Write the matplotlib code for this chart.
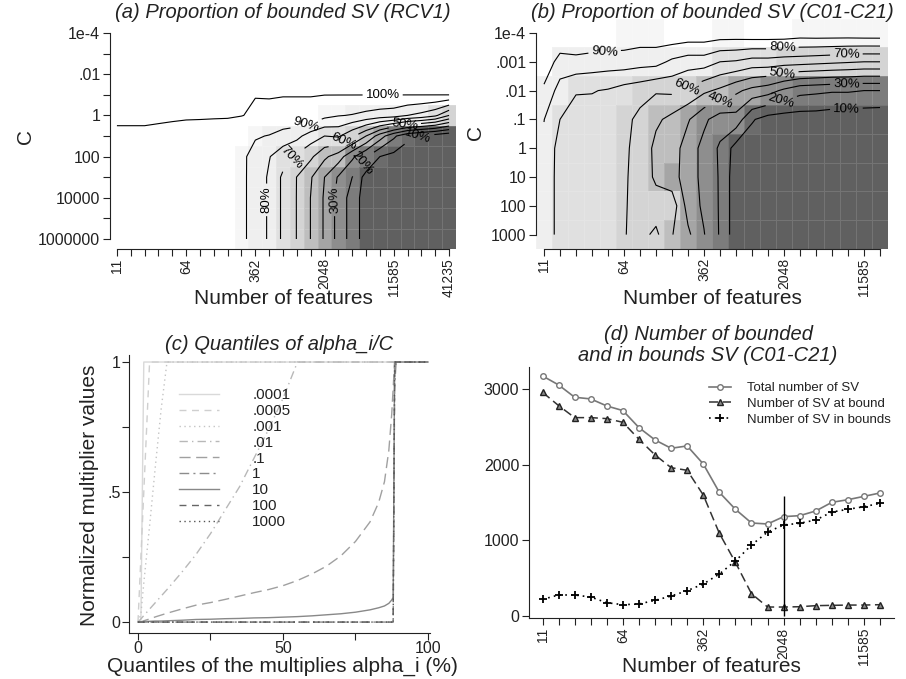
import numpy as np
import matplotlib
matplotlib.use("Agg")
import matplotlib.pyplot as plt
from matplotlib.colors import ListedColormap, BoundaryNorm

plt.rcParams['font.family'] = ['Liberation Sans', 'DejaVu Sans']
for key in ['text.color', 'axes.labelcolor', 'xtick.color', 'ytick.color', 'axes.edgecolor']:
    plt.rcParams[key] = '#222222'

# ---------------- data ----------------
# (a) proportion of bounded SV, RCV1 : one list per number of features, values for C = 1e-4 ... 1e6
rcv1_features = [11, 16, 23, 32, 45, 64, 91, 128, 181, 256, 362, 512, 724, 1024, 1448,
                 2048, 2896, 4096, 5793, 8192, 11585, 16384, 23170, 32768, 41235]
rcv1_C = ['1e-4', '.001', '.01', '.1', '1', '10', '100', '1000', '10000', '100000', '1000000']
rcv1_prop = [
    [1, 1, 1, 1, 1, .998, .998, .998, .998, .998, .998],
    [1, 1, 1, 1, 1, .998, .998, .998, .998, .998, .998],
    [1, 1, 1, 1, 1, .998, .998, .998, .998, .998, .998],
    [1, 1, 1, 1, 1, .9975, .9975, .9975, .9975, .9975, .9975],
    [1, 1, 1, 1, 1, .9967, .9967, .9967, .9967, .9967, .9967],
    [1, 1, 1, 1, 1, .9955, .9955, .9955, .9955, .9955, .9955],
    [1, 1, 1, 1, 1, .995, .995, .995, .995, .995, .995],
    [1, 1, 1, 1, 1, .994, .994, .994, .994, .994, .994],
    [1, 1, 1, 1, 1, .993, .993, .993, .993, .993, .993],
    [1, 1, 1, 1, 1, .97, .924, .924, .924, .924, .924],
    [1, 1, 1, 1, .994, .91, .86, .858, .858, .858, .858],
    [1, 1, 1, 1, .995, .895, .805, .787, .787, .787, .787],
    [1, 1, 1, 1, .99, .856, .744, .681, .681, .681, .681],
    [1, 1, 1, 1, .99, .83, .68, .598, .597, .597, .597],
    [1, 1, 1, 1, .99, .75, .62, .51, .498, .498, .498],
    [1, 1, 1, 1, .93, .70, .52, .40, .388, .388, .388],
    [1, 1, 1, 1, .905, .714, .45, .29, .267, .267, .267],
    [1, 1, 1, 1, .895, .62, .32, .20, .156, .156, .156],
    [1, 1, 1, 1, .875, .50, .21, .06, .05, .05, .05],
    [1, 1, 1, 1, .857, .35, .10, .04, .04, .04, .04],
    [1, 1, 1, 1, .846, .22, .07, .03, .03, .03, .03],
    [1, 1, 1, 1, .80, .12, .05, .03, .03, .03, .03],
    [1, 1, 1, 1, .77, .08, .04, .03, .03, .03, .03],
    [1, 1, 1, 1, .72, .05, .03, .03, .03, .03, .03],
    [1, 1, 1, 1, .60, .02, .02, .02, .02, .02, .02],
]

# (b) proportion of bounded SV, C01-C21 : values for C = 1e-4 ... 1000
c21_features = [11, 16, 23, 32, 45, 64, 91, 128, 181, 256, 362, 512, 724, 1024, 1448,
                2048, 2896, 4096, 5793, 8192, 11585, 16384]
c21_C = ['1e-4', '.001', '.01', '.1', '1', '10', '100', '1000']
c21_prop = [
    [.995, .97, .88, .802, .78, .78, .78, .78],
    [.995, .86, .76, .70, .66, .655, .655, .655],
    [.995, .87, .707, .66, .655, .655, .655, .655],
    [.99, .858, .705, .66, .655, .655, .655, .655],
    [.985, .851, .692, .66, .65, .65, .65, .65],
    [.969, .854, .66, .63, .61, .61, .61, .605],
    [.96, .84, .64, .573, .58, .57, .56, .57],
    [.965, .835, .61, .52, .47, .48, .55, .62],
    [.98, .78, .62, .47, .45, .44, .56, .505],
    [.97, .75, .58, .41, .35, .35, .36, .42],
    [.97, .75, .52, .32, .27, .27, .28, .305],
    [.96, .70, .48, .25, .185, .19, .19, .19],
    [.96, .69, .42, .26, .06, .04, .04, .04],
    [.97, .66, .37, .11, .04, .03, .03, .03],
    [.97, .66, .34, .06, .03, .03, .03, .03],
    [.97, .645, .28, .05, .03, .03, .03, .03],
    [.955, .64, .23, .05, .03, .03, .03, .03],
    [.96, .63, .22, .05, .03, .03, .03, .03],
    [.96, .62, .21, .04, .03, .03, .03, .03],
    [.96, .61, .21, .04, .03, .03, .03, .03],
    [.965, .60, .20, .035, .03, .03, .03, .03],
    [.966, .60, .20, .03, .03, .03, .03, .03],
]

# (c) quantiles of alpha_i / C
quantiles = [0, 1, 2, 4, 6, 8, 10, 15, 20, 25, 30, 35, 40, 45, 50, 55, 60, 65, 70, 75,
             80, 83, 85, 86.5, 87.5, 88, 88.5, 89, 90, 95, 100]
alpha_curves = {
    '.0001': [0, 0, 1, 1, 1, 1, 1, 1, 1, 1, 1, 1, 1, 1, 1, 1, 1, 1, 1, 1, 1, 1, 1, 1, 1, 1, 1, 1, 1, 1, 1],
    '.0005': [0, .25, .5, 1, 1, 1, 1, 1, 1, 1, 1, 1, 1, 1, 1, 1, 1, 1, 1, 1, 1, 1, 1, 1, 1, 1, 1, 1, 1, 1, 1],
    '.001': [0, .03, .15, .37, .6, .82, 1, 1, 1, 1, 1, 1, 1, 1, 1, 1, 1, 1, 1, 1, 1, 1, 1, 1, 1, 1, 1, 1, 1, 1, 1],
    '.01': [0, .012, .025, .05, .075, .1, .125, .19, .26, .34, .43, .52, .63, .74, .86, 1, 1, 1, 1, 1,
            1, 1, 1, 1, 1, 1, 1, 1, 1, 1, 1],
    '.1': [0, 0, .005, .012, .02, .027, .034, .05, .065, .075, .087, .1, .113, .125, .14, .16, .185, .215,
           .255, .31, .385, .46, .54, .66, .8, .9, 1, 1, 1, 1, 1],
    '1': [0, 0, 0, 0, 0, 0, 0, 0, 0, 0, 0, 0, 0, 0, 0, 0, 0, 0, 0, 0, 0, 0, 0, 0, 0, 0, .9, 1, 1, 1, 1],
    '10': [0, .001, .002, .003, .004, .004, .005, .007, .01, .011, .013, .014, .016, .017, .019, .021,
           .024, .028, .032, .038, .047, .055, .062, .072, .085, .095, 1, 1, 1, 1, 1],
    '100': [0, 0, 0, 0, 0, 0, 0, 0, 0, 0, 0, 0, 0, 0, 0, 0, 0, 0, 0, 0, 0, 0, 0, 0, 0, 0, .95, 1, 1, 1, 1],
    '1000': [0, 0, 0, 0, 0, 0, 0, 0, 0, 0, 0, 0, 0, 0, 0, 0, 0, 0, 0, 0, 0, 0, 0, 0, 0, 0, 1, 1, 1, 1, 1],
}

# (d) number of SV (C01-C21)
sv_total = [3172, 3053, 2890, 2868, 2775, 2714, 2489, 2326, 2216, 2247, 2009, 1634, 1410, 1229,
            1216, 1313, 1326, 1388, 1502, 1537, 1581, 1626]
sv_at_bound = [2956, 2780, 2621, 2621, 2608, 2559, 2335, 2128, 1960, 1925, 1599, 1093, 709, 295,
               119, 119, 123, 137, 141, 145, 145, 150]
sv_in_bounds = [220, 278, 278, 251, 176, 150, 159, 207, 264, 335, 423, 555, 727, 938, 1110, 1203,
                1225, 1269, 1374, 1410, 1445, 1489]
marked_feature = 2048
marked_height = 1580

# ---------------- layout helpers ----------------
W, H = 906, 679


def box(l, t, r, b):
    return [l / W, 1 - b / H, (r - l) / W, (b - t) / H]


def label(x, y, s, **kw):
    fig.text(x / W, 1 - y / H, s, ha='center', va='center', **kw)


shade_bounds = [0, .1, .15, .25, .35, .45, .55, .65, .75, .9, .97, 1.01]
shade_colors = ['#606060', '#6c6c6c', '#7c7c7c', '#8e8e8e', '#a5a5a5', '#bebebe',
                '#d4d4d4', '#e0e0e0', '#efefef', '#f6f6f6', '#ffffff']
cmap = ListedColormap(shade_colors)
norm = BoundaryNorm(shade_bounds, cmap.N)
pct = {0.1: '10%', 0.2: '20%', 0.3: '30%', 0.4: '40%', 0.5: '50%', 0.6: '60%',
       0.7: '70%', 0.8: '80%', 0.9: '90%', 0.999: '100%'}

fig = plt.figure(figsize=(9.06, 6.79), dpi=100)


def heat_panel(rect, prop, feats, cvals, levels, label_pos, xlab_idx, ylab_every):
    ax = fig.add_axes(rect)
    Z = np.array(prop).T
    ny, nx = Z.shape
    ax.pcolormesh(np.arange(nx + 1) - 0.5, np.arange(ny + 1) - 0.5, Z, cmap=cmap, norm=norm,
                  edgecolors=(1, 1, 1, 0.13), linewidth=0.5)
    # one contour set per level so that each label can be placed by hand
    for lev in levels:
        cs = ax.contour(np.arange(nx), np.arange(ny), Z, levels=[lev], colors='black',
                        linewidths=0.8)
        if lev in label_pos:
            texts = cs.clabel(manual=[label_pos[lev]], fmt=pct, fontsize=9.5, inline_spacing=3)
            for t in texts:
                r = t.get_rotation() % 360
                if 180 < r < 360 and abs(r - 270) < 20:
                    t.set_rotation(r - 180)
    ax.set_xlim(-0.5, nx - 0.5)
    ax.set_ylim(ny - 0.5, -0.5)
    ax.set_xticks(range(nx))
    ax.set_xticklabels([str(f) if i in xlab_idx else '' for i, f in enumerate(feats)], rotation=90)
    ax.set_yticks(range(ny))
    ax.set_yticklabels([c if i % ylab_every == 0 else '' for i, c in enumerate(cvals)])
    ax.tick_params(direction='out', length=5, width=0.8, labelsize=11.5, pad=2)
    ax.tick_params(axis='x', labelsize=10, pad=1.5)
    for s in ['top', 'right']:
        ax.spines[s].set_visible(False)
    ax.spines['left'].set_bounds(0, ny - 1)
    ax.spines['bottom'].set_bounds(0, nx - 1)
    return ax


# (a)
levels_a = [.1, .2, .3, .4, .5, .6, .7, .8, .9, .999]
pos_a = {.999: (19.2, 3.0), .9: (13.7, 4.47), .8: (10.9, 8.1), .7: (12.85, 6.17),
         .6: (16.2, 5.03), .5: (20.7, 4.06), .3: (15.86, 8.1), .2: (17.9, 6.4),
         .1: (21.75, 4.95)}
heat_panel(box(110, 22.7, 456, 249.3), rcv1_prop, rcv1_features, rcv1_C, levels_a, pos_a,
           (0, 5, 10, 15, 20, 24), 2)

# (b)
levels_b = [.1, .2, .3, .4, .5, .6, .7, .8, .9]
pos_b = {.9: (3.8, 0.71), .8: (14.9, 0.57), .7: (18.9, 0.76), .6: (8.8, 1.75),
         .5: (14.9, 1.42), .4: (11.0, 2.33), .3: (18.9, 1.75), .2: (14.9, 2.5),
         .1: (18.9, 2.56)}
heat_panel(box(536, 18.6, 888, 249), c21_prop, c21_features, c21_C, levels_b, pos_b,
           (0, 5, 10, 15, 20), 1)

label(283, 12, '(a) Proportion of bounded SV (RCV1)', fontsize=14.5, style='italic')
label(712, 12, '(b) Proportion of bounded SV (C01-C21)', fontsize=14.5, style='italic')
label(283, 298, 'Number of features', fontsize=15)
label(712, 299, 'Number of features', fontsize=15)
label(25, 136, 'C', fontsize=15, rotation=90)
label(475, 133, 'C', fontsize=15, rotation=90)

# (c)
ax_c = fig.add_axes(box(129, 355, 430, 633))
styles = {
    '.0001': ('#d9d9d9', '-'), '.0005': ('#cfcfcf', (0, (5, 4))), '.001': ('#c4c4c4', (0, (1, 2.5))),
    '.01': ('#b8b8b8', (0, (6, 3, 1, 3))), '.1': ('#a0a0a0', (0, (8, 4))),
    '1': ('#8c8c8c', (0, (7, 3, 1.5, 3))), '10': ('#888888', '-'),
    '100': ('#666666', (0, (5, 4))), '1000': ('#555555', (0, (1, 2.5))),
}
for name, vals in alpha_curves.items():
    col, ls = styles[name]
    ax_c.plot(quantiles, vals, color=col, linestyle=ls, linewidth=1.0, label=name)
ax_c.set_xlim(-3.1, 100.7)
ax_c.set_ylim(-0.042, 1.027)
ax_c.set_xticks([0, 25, 50, 75, 100])
ax_c.set_xticklabels(['0', '', '50', '', '100'])
ax_c.set_yticks([0, .25, .5, .75, 1])
ax_c.set_yticklabels(['0', '', '.5', '', '1'])
ax_c.tick_params(direction='out', length=5, width=0.8, labelsize=11.5, pad=1)
for s in ['top', 'right']:
    ax_c.spines[s].set_visible(False)
ax_c.legend(loc='upper left', bbox_to_anchor=(0.12, 0.93), frameon=False, fontsize=11,
            handlelength=2.6, labelspacing=0.12, handletextpad=2.2)
label(279, 344, '(c) Quantiles of alpha_i/C', fontsize=14.5, style='italic')
label(282, 666, 'Quantiles of the multiplies alpha_i (%)', fontsize=15)
label(90, 495, 'Normalized multiplier values', fontsize=15, rotation=90)

# (d)
ax_d = fig.add_axes(box(529, 366.6, 893.6, 618))
xi = np.arange(len(c21_features))
ax_d.plot(xi, sv_total, color='#777777', linewidth=1.2, marker='o', markersize=4,
          markerfacecolor='white', markeredgecolor='#777777', label='Total number of SV')
ax_d.plot(xi, sv_at_bound, color='#333333', linewidth=1.1, linestyle=(0, (6, 3)), marker='^',
          markersize=4.5, markerfacecolor='#888888', markeredgecolor='#222222',
          label='Number of SV at bound')
ax_d.plot(xi, sv_in_bounds, color='black', linewidth=1.2, linestyle=(0, (1, 2.5)), marker='+',
          markersize=6, markeredgewidth=1.3, label='Number of SV in bounds')
ax_d.vlines(c21_features.index(marked_feature), 0, marked_height, color='black', linewidth=1)
ax_d.set_xlim(-0.84, 21.84)
ax_d.set_ylim(-26, 3295)
ax_d.set_xticks(xi)
ax_d.set_xticklabels([str(f) if i % 5 == 0 else '' for i, f in enumerate(c21_features)], rotation=90)
ax_d.set_yticks([0, 1000, 2000, 3000])
ax_d.tick_params(direction='out', length=5, width=0.8, labelsize=11.5, pad=2)
ax_d.tick_params(axis='x', labelsize=10)
for s in ['top', 'right']:
    ax_d.spines[s].set_visible(False)
ax_d.legend(loc='upper left', bbox_to_anchor=(0.46, 0.985), frameon=False, fontsize=9.5,
            handlelength=1.7, labelspacing=0.25, handletextpad=1.2)
label(708, 345, '(d) Number of bounded\nand in bounds SV (C01-C21)', fontsize=14.5,
      style='italic', linespacing=1.15)
label(711, 666, 'Number of features', fontsize=15)

fig.savefig('out.png', dpi=100, facecolor='white')
